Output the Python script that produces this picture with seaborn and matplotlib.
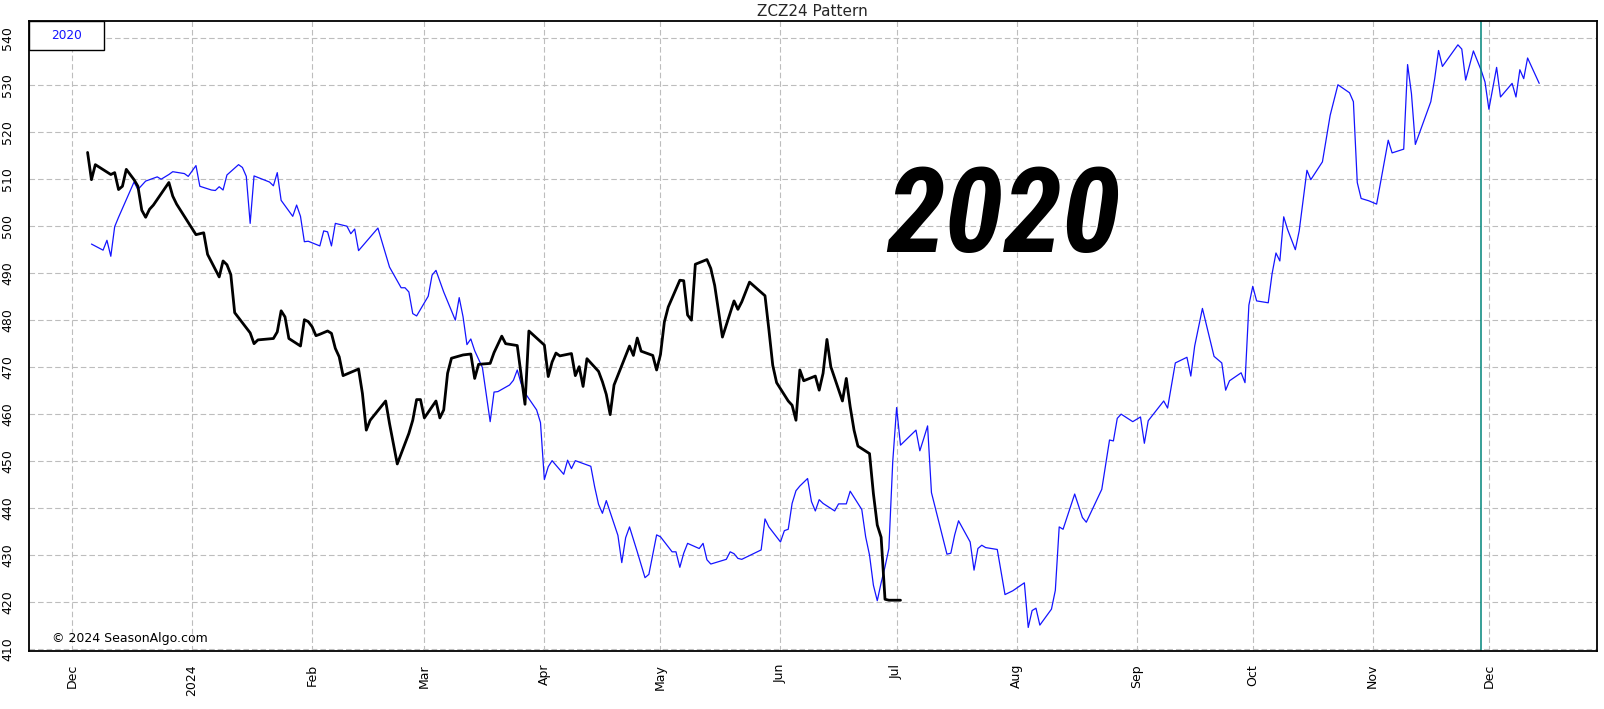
import pandas as pd
import matplotlib
matplotlib.use("Agg")
import matplotlib.pyplot as plt
from matplotlib import font_manager
from matplotlib.patches import Rectangle
import seaborn as sns

# x values are days counted from 2023-12-01
BASE = pd.Timestamp("2023-12-01")

# ZCZ24 (current contract, black)
zcz24_day = [4, 5, 6, 10, 11, 12, 13, 14, 16, 17, 18, 19, 20, 21, 25, 26, 27, 32, 34, 35,
             38, 39, 40, 41, 42, 46, 47, 48, 52, 53, 54, 55, 56, 59, 60, 61, 62, 63, 64, 66,
             67, 68, 69, 70, 74, 75, 76, 77, 81, 82, 84, 87, 88, 89, 90, 91, 94, 95, 96, 97,
             98, 101, 103, 104, 105, 108, 109, 111, 112, 115, 117, 118, 122, 123, 124, 125, 126, 129, 130, 131,
             132, 133, 136, 137, 138, 139, 140, 144, 145, 146, 147, 150, 151, 152, 153, 154, 157, 158, 159, 160,
             161, 164, 165, 166, 168, 171, 172, 173, 175, 179, 180, 181, 182, 185, 186, 187, 188, 189, 192, 193,
             194, 195, 196, 199, 200, 201, 202, 203, 206, 207, 208, 209, 210, 211, 214]
zcz24_price = [515.7, 509.9, 513.1, 511.0, 511.4, 507.8, 508.5, 512.1, 509.9, 508.5, 503.4, 501.9, 503.6, 504.5, 509.3, 506.4, 504.7, 498.2, 498.6, 494.0,
               489.2, 492.6, 491.8, 489.7, 481.6, 477.3, 475.0, 475.8, 476.1, 477.5, 482.0, 480.7, 476.1, 474.5, 480.1, 479.7, 478.6, 476.7, 477.0, 477.7,
               477.2, 474.0, 472.2, 468.2, 469.6, 464.4, 456.6, 458.7, 462.8, 458.0, 449.4, 455.9, 458.7, 463.1, 463.1, 459.2, 462.8, 459.2, 460.9, 468.7,
               471.9, 472.6, 472.8, 467.6, 470.6, 470.8, 473.1, 476.6, 475.0, 474.6, 462.1, 477.7, 474.7, 468.0, 471.1, 473.0, 472.4, 472.9, 468.2, 470.1,
               465.9, 471.8, 469.1, 466.9, 464.2, 459.9, 466.2, 474.5, 472.5, 476.2, 473.4, 472.5, 469.4, 472.7, 479.6, 482.8, 488.5, 488.4, 481.1, 480.0,
               491.9, 492.9, 491.0, 487.4, 476.4, 484.1, 482.3, 483.9, 488.1, 485.2, 478.0, 470.4, 466.7, 462.8, 461.9, 458.7, 469.4, 467.1, 468.1, 465.1,
               468.7, 475.9, 470.1, 462.8, 467.6, 461.6, 456.6, 453.2, 451.6, 443.1, 436.4, 433.8, 420.6, 420.4, 420.4]

# 2020 pattern (blue)
p2020_day = [5, 8, 9, 10, 11, 12, 16, 17, 19, 22, 23, 25, 26, 29, 30, 32, 33, 36, 37, 38,
             39, 40, 43, 44, 45, 46, 47, 51, 52, 53, 54, 57, 58, 59, 60, 61, 64, 65, 66, 67,
             68, 71, 72, 73, 74, 79, 82, 85, 86, 87, 88, 89, 92, 93, 94, 96, 99, 100, 101, 102,
             103, 104, 106, 108, 109, 110, 113, 114, 115, 116, 117, 120, 121, 122, 123, 124, 127, 128, 129, 130,
             134, 135, 136, 137, 138, 141, 142, 143, 144, 146, 148, 149, 151, 152, 155, 156, 157, 158, 159, 162,
             163, 164, 165, 169, 170, 171, 172, 173, 178, 179, 180, 183, 184, 185, 186, 187, 188, 190, 191, 192,
             193, 194, 197, 198, 200, 201, 204, 205, 206, 207, 208, 209, 210, 211, 212, 213, 214, 218, 219, 220,
             221, 222, 226, 227, 228, 229, 232, 233, 234, 235, 236, 239, 241, 243, 246, 247, 248, 249, 250, 253,
             254, 255, 256, 259, 261, 262, 266, 268, 269, 270, 271, 274, 276, 277, 278, 282, 283, 285, 288, 289,
             290, 292, 295, 297, 298, 299, 302, 303, 304, 305, 306, 309, 310, 311, 312, 313, 314, 316, 317, 319,
             320, 323, 325, 327, 330, 331, 332, 333, 335, 337, 340, 341, 344, 345, 346, 347, 351, 352, 353, 354,
             358, 359, 360, 362, 364, 365, 366, 368, 369, 372, 373, 374, 375, 376, 379]
p2020_price = [496.2, 494.9, 497.0, 493.6, 499.9, 501.9, 509.4, 507.8, 509.6, 510.5, 510.0, 511.0, 511.6, 511.2, 510.6, 512.9, 508.5, 507.7, 507.6, 508.4,
               507.7, 510.9, 513.1, 512.5, 510.6, 500.6, 510.7, 509.4, 508.6, 511.4, 505.5, 502.1, 504.5, 502.1, 496.7, 496.8, 495.8, 499.0, 498.8, 495.8,
               500.6, 500.0, 498.4, 499.4, 494.8, 499.6, 491.3, 486.9, 486.9, 486.0, 481.4, 480.9, 485.1, 489.6, 490.6, 486.0, 480.0, 484.8, 480.7, 474.8,
               476.0, 473.5, 469.9, 458.4, 464.7, 464.8, 466.2, 467.2, 469.4, 466.5, 464.5, 460.9, 458.2, 446.1, 448.8, 450.1, 447.2, 450.2, 448.4, 450.1,
               448.9, 444.5, 440.8, 438.9, 441.6, 434.2, 428.4, 433.7, 436.0, 430.7, 425.2, 425.9, 434.3, 433.9, 430.7, 430.7, 427.4, 430.4, 432.5, 431.4,
               432.5, 429.0, 428.1, 429.1, 430.7, 430.3, 429.3, 429.1, 431.1, 437.7, 436.0, 432.8, 435.2, 435.5, 441.0, 443.7, 444.7, 446.3, 441.4, 439.4,
               441.8, 441.0, 439.4, 440.9, 440.9, 443.6, 439.7, 433.9, 430.0, 423.6, 420.3, 424.1, 427.5, 431.4, 449.9, 461.4, 453.4, 456.6, 452.2, 454.8,
               457.5, 443.3, 430.2, 430.4, 434.3, 437.3, 432.8, 426.8, 431.4, 432.1, 431.6, 431.2, 421.6, 422.4, 424.1, 414.6, 418.2, 418.7, 415.1, 418.5,
               422.5, 436.0, 435.5, 443.0, 438.0, 437.0, 444.0, 454.5, 454.3, 459.1, 460.0, 458.4, 459.4, 453.8, 458.6, 462.8, 461.3, 470.9, 472.1, 468.1,
               474.5, 482.5, 472.3, 470.9, 465.1, 467.1, 468.8, 466.7, 483.2, 487.2, 484.1, 483.7, 489.9, 494.3, 492.6, 502.0, 499.3, 495.0, 499.0, 511.9,
               509.9, 513.7, 523.6, 530.1, 528.4, 526.5, 509.3, 505.9, 505.4, 504.7, 518.3, 515.6, 516.4, 534.4, 528.2, 517.4, 526.5, 531.4, 537.4, 534.0,
               538.6, 537.7, 531.1, 537.3, 533.2, 530.7, 524.9, 533.8, 527.5, 530.4, 527.5, 533.3, 531.4, 535.8, 530.4]

month_ticks = pd.date_range("2023-12-01", "2024-12-01", freq="MS")
month_labels = ["Dec", "2024", "Feb", "Mar", "Apr", "May", "Jun", "Jul", "Aug", "Sep", "Oct", "Nov", "Dec"]
price_ticks = list(range(410, 541, 10))
marker_date = pd.Timestamp("2024-11-29")

sns.set_theme(style="white")
plt.rcParams["font.family"] = ["DejaVu Sans"]

zcz24 = pd.DataFrame({"date": BASE + pd.to_timedelta(zcz24_day, unit="D"), "price": zcz24_price})
p2020 = pd.DataFrame({"date": BASE + pd.to_timedelta(p2020_day, unit="D"), "price": p2020_price})

fig = plt.figure(figsize=(16.04, 7.09), dpi=100)
ax = fig.add_axes([0.0179, 0.0822, 0.9777, 0.8877])

sns.lineplot(data=p2020, x="date", y="price", color="#1414ff", lw=0.9, estimator=None, sort=False, ax=ax)
sns.lineplot(data=zcz24, x="date", y="price", color="black", lw=2.0, estimator=None, sort=False, ax=ax)
ax.axvline(marker_date, color="#00857a", lw=1.1)

ax.set_xlim(pd.Timestamp("2023-11-19 19:00"), pd.Timestamp("2024-12-28 22:00"))
ax.set_ylim(409.65, 543.6)
ax.set_xticks(month_ticks)
ax.set_xticklabels(month_labels, rotation=90, ha="center", va="top")
ax.set_yticks(price_ticks)
ax.set_yticklabels([str(v) for v in price_ticks], rotation=90, va="center")
ax.tick_params(axis="both", length=0, labelsize=9, colors="black")
ax.tick_params(axis="x", pad=9.5)
ax.tick_params(axis="y", pad=10.5)
ax.set_xlabel("")
ax.set_ylabel("")
ax.grid(True, color="#bdbdbd", lw=0.8, ls=(0, (5, 2.7)))
for sp in ax.spines.values():
    sp.set_color("black")
    sp.set_linewidth(1.3)

ax.set_title("ZCZ24 Pattern", fontsize=11, pad=4)

# legend-like box at top left
ax.add_patch(Rectangle((0, 1 - 0.0461), 0.0478, 0.0461, transform=ax.transAxes,
                       facecolor="white", edgecolor="black", lw=1.0, zorder=5, clip_on=False))
ax.text(0.0239, 1 - 0.023, "2020", transform=ax.transAxes, color="#1414ff",
        fontsize=8.7, ha="center", va="center", zorder=6)

# big year label
names = {f.name for f in font_manager.fontManager.ttflist}
big_family = "DejaVu Sans"
for cand in ["Liberation Sans Narrow", "DejaVu Sans Condensed", "Roboto Condensed"]:
    if cand in names:
        big_family = cand
        break
ax.text(0.6216, 0.634, "2020", transform=ax.transAxes, family=big_family,
        fontsize=86, fontweight="bold", fontstyle="italic", ha="center", va="baseline", color="black")

ax.text(0.0147, 0.0133, "\u00a9 2024 SeasonAlgo.com", transform=ax.transAxes,
        fontsize=9, ha="left", va="baseline", color="black")

fig.savefig("out.png", dpi=100)
